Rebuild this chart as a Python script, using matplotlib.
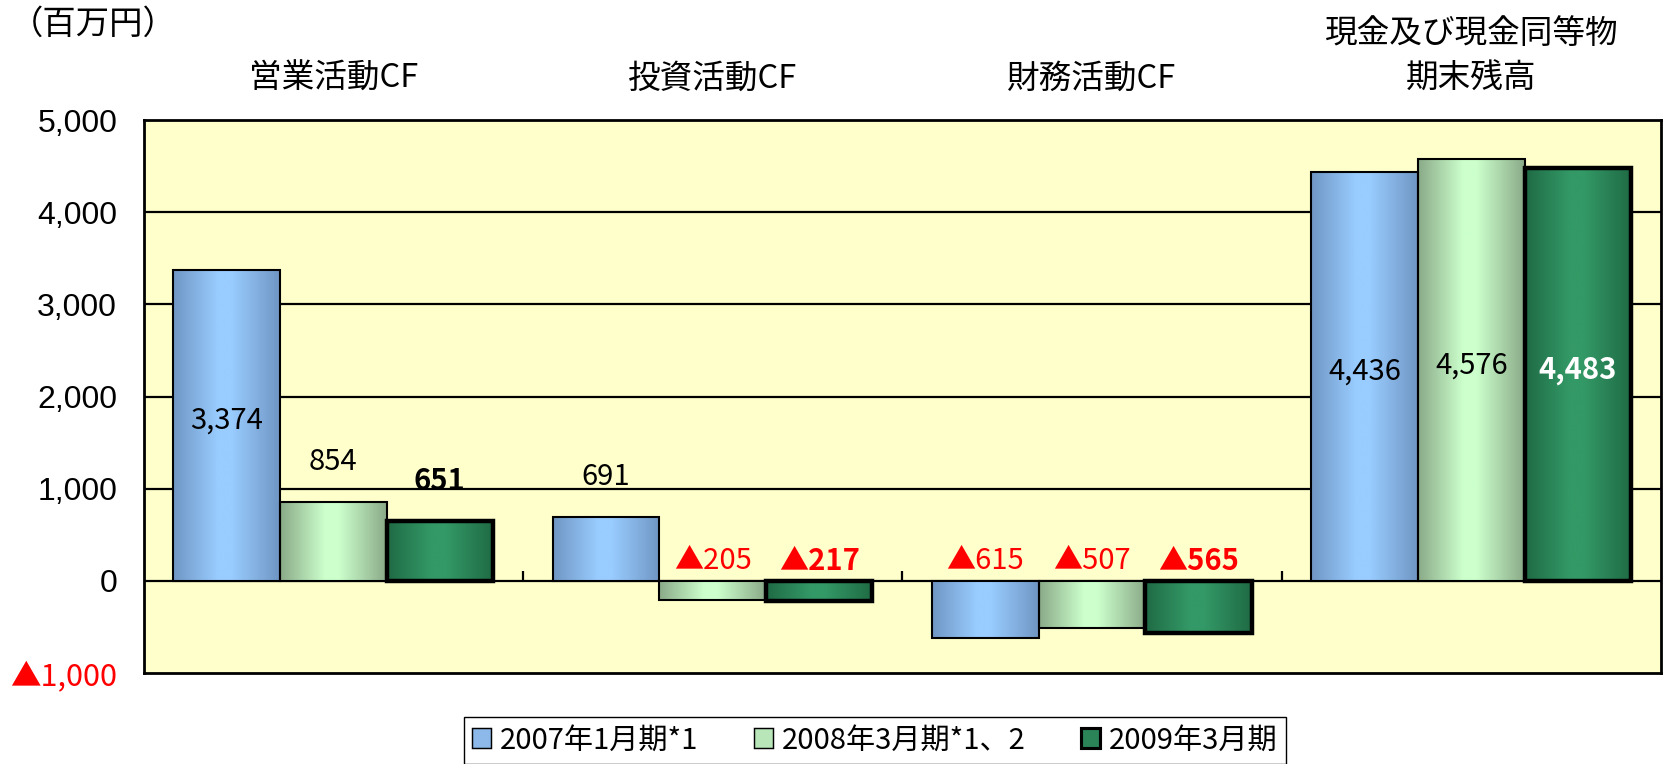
import numpy as np
import matplotlib.pyplot as plt
from matplotlib.colors import LinearSegmentedColormap
from matplotlib.patches import Patch
from matplotlib.transforms import blended_transform_factory

plt.rcParams['font.family'] = ['Noto Sans CJK JP', 'DejaVu Sans']

# data (百万円)
categories = ['営業活動CF', '投資活動CF', '財務活動CF', '現金及び現金同等物\n期末残高']
series_names = ['2007年1月期*1', '2008年3月期*1、2', '2009年3月期']
fy2007 = [3374, 691, -615, 4436]
fy2008 = [854, -205, -507, 4576]
fy2009 = [651, -217, -565, 4483]
yticks = [-1000, 0, 1000, 2000, 3000, 4000, 5000]

series = [fy2007, fy2008, fy2009]
# (edge colour, centre colour) of the cylinder-like gradient
grads = [('#6f96c4', '#99ccff'), ('#8aaa88', '#ccffcc'), ('#1f6a44', '#339966')]
handle_colors = ['#8db9ea', '#b8e6b8', '#2a8458']
edge_widths = [1.5, 1.5, 3.2]


def fmt(v):
    # negative numbers are written with a red triangle in Japanese reports
    if v < 0:
        return '▲{:,}'.format(abs(v))
    return '{:,}'.format(v)


fig = plt.figure(figsize=(16.63, 7.64), dpi=100)
ax = fig.add_axes([0.0863, 0.1191, 0.9125, 0.7238])
ax.set_facecolor('#ffffcc')

x = np.arange(len(categories))
width = 0.281
grad = np.linspace(0, 1, 256).reshape(1, -1)

for i, vals in enumerate(series):
    offs = (i - 1) * width
    bars = ax.bar(x + offs, vals, width, facecolor='none', edgecolor='black',
                  linewidth=edge_widths[i], zorder=4)
    cmap = LinearSegmentedColormap.from_list(
        'g%d' % i, [(0, grads[i][0]), (0.42, grads[i][1]),
                    (0.55, grads[i][1]), (1, grads[i][0])])
    for b in bars:
        x0, y0 = b.get_x(), b.get_y()
        im = ax.imshow(grad, cmap=cmap, aspect='auto', zorder=3,
                       extent=(x0, x0 + b.get_width(), y0, y0 + b.get_height()))
        im.set_clip_path(b)

    # value labels
    for xi, v in zip(x + offs, vals):
        bold = 'bold' if i == 2 else 'normal'
        if v > 3000:
            col = 'white' if i == 2 else 'black'
            ax.text(xi, v / 2 + 50, fmt(v), ha='center', va='center',
                    fontsize=21, color=col, fontweight=bold, zorder=6)
        elif v < 0:
            ax.annotate(fmt(v), (xi, 0), xytext=(0, 14), textcoords='offset points',
                        ha='center', va='center', fontsize=21, color='red',
                        fontweight=bold, zorder=6)
        else:
            ax.annotate(fmt(v), (xi, v), xytext=(0, 29), textcoords='offset points',
                        ha='center', va='center', fontsize=21, color='black',
                        fontweight=bold, zorder=6)

ax.set_xlim(-0.5, len(categories) - 0.5)
ax.set_ylim(-1000, 5000)

# gridlines, zero axis with category dividers
for yv in yticks[2:-1]:
    ax.axhline(yv, color='black', linewidth=1.6, zorder=1)
ax.axhline(0, color='black', linewidth=1.6, zorder=2)
ax.vlines(x[:-1] + 0.5, 0, 110, color='black', linewidth=1.6, zorder=2)

ax.set_xticks([])
ax.set_yticks(yticks)
ax.set_yticklabels([fmt(v) for v in yticks], fontsize=23)
for lab, v in zip(ax.get_yticklabels(), yticks):
    lab.set_family(['Liberation Sans', 'Noto Sans CJK JP'])
    if v < 0:
        lab.set_color('red')
        lab.set_family(['Noto Sans CJK JP'])
        lab.set_fontsize(22)
ax.tick_params(axis='y', length=0, pad=19)
for s in ax.spines.values():
    s.set_linewidth(2)
    s.set_zorder(7)

# category titles above the plot
trans = blended_transform_factory(ax.transData, fig.transFigure)
for xi, c in zip(x, categories):
    ax.text(xi, 1 - 95 / 764, c, transform=trans, ha='center', va='bottom',
            fontsize=23.5, linespacing=1.5)

fig.text(0.006, 1 - 24 / 764, '（百万円）', ha='left', va='center', fontsize=24)

handles = [Patch(facecolor=handle_colors[i], edgecolor='black',
                 linewidth=edge_widths[i] * 0.7, label=series_names[i])
           for i in range(3)]
fig.legend(handles=handles, loc='center', bbox_to_anchor=(0.526, 0.031), ncol=3,
           fontsize=21, frameon=True, fancybox=False, edgecolor='black',
           handlelength=0.65, handleheight=0.65, handletextpad=0.3,
           columnspacing=1.9, borderpad=0.3, borderaxespad=0.3, framealpha=1)

fig.savefig('out.png', dpi=100)
